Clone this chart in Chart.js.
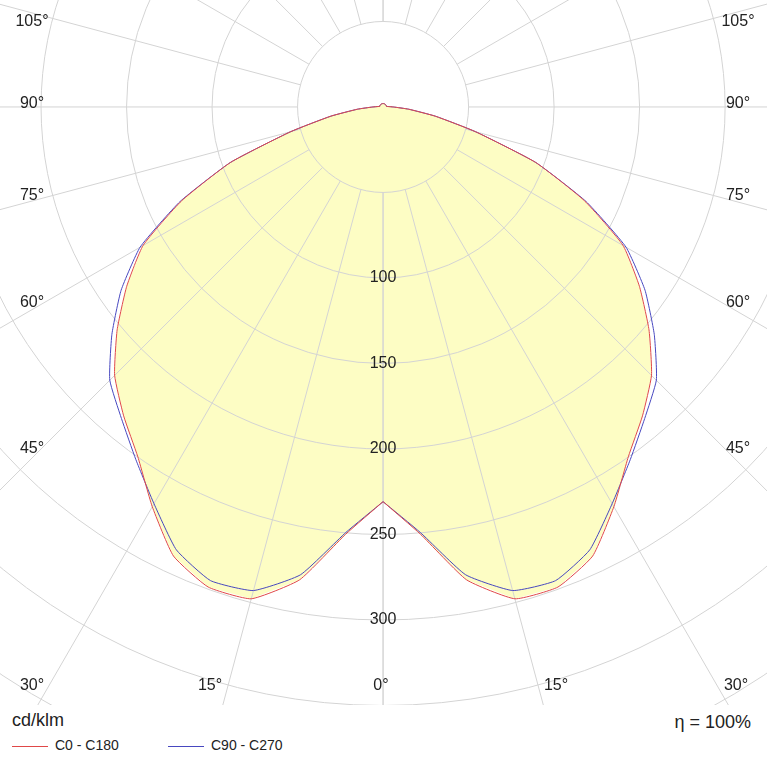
<!DOCTYPE html>
<html>
<head>
<meta charset="utf-8">
<script src="https://cdn.jsdelivr.net/npm/chart.js@4"></script>
<style>
  body { margin: 0; background: #fff; font-family: Arial, "Liberation Sans", sans-serif; }
  #wrap { position: relative; width: 767px; height: 767px; }
  canvas { display: block; }
  .t { position: absolute; font-size: 18px; color: #222; }
  .lg { position: absolute; font-size: 14px; color: #222; top: 737px; }
  .ln { position: absolute; top: 746px; height: 1px; width: 36px; }
</style>
</head>
<body>
<div id="wrap">
  <canvas id="c" width="767" height="705"></canvas>
  <div class="t" style="left:12px;top:710px">cd/klm</div>
  <div class="t" style="right:16px;top:712px">η = 100%</div>
  <div class="ln" style="left:12px;background:#e04848"></div>
  <div class="lg" style="left:55px">C0 - C180</div>
  <div class="ln" style="left:168px;background:#4848c0"></div>
  <div class="lg" style="left:211px">C90 - C270</div>
</div>
<script>
// gamma angles (0 = straight down)
const angles = [0,5,10,15,20,25,30,35,40,45,50,55,60,65,70,75,80,85,90,95,100,110,120,135,150,165,180];
const c0 = [231,251,281,298,299,290,270,250,236,222,203,183,162,130,95,56,31,15,6,3,2,2,2,2,2,2,2];
const c90 = [231,250,278,293,295,286,268,252,238,226,207,187,164,131,95,56,31,15,6,3,2,2,2,2,2,2,2];
const ringValues = [50,100,150,200,250,300,350,400];
const ringLabels = ['100','150','200','250','300'];

// closed outline: right half then mirrored left half
function outline(vals) {
  const pts = [];
  angles.forEach((a, i) => {
    const r = a * Math.PI / 180;
    pts.push({ x: vals[i] * Math.sin(r), y: -vals[i] * Math.cos(r) });
  });
  for (let i = angles.length - 2; i >= 0; i--) {
    const r = angles[i] * Math.PI / 180;
    pts.push({ x: -vals[i] * Math.sin(r), y: -vals[i] * Math.cos(r) });
  }
  return pts;
}

const polarGrid = {
  id: 'polarGrid',
  beforeDatasetsDraw(chart) {
    const { ctx, scales: { x, y } } = chart;
    const cx = x.getPixelForValue(0), cy = y.getPixelForValue(0);
    const k = x.getPixelForValue(1) - cx;
    ctx.save();
    // fill under the C0 outline
    const meta = chart.getDatasetMeta(0);
    ctx.beginPath();
    meta.data.forEach((p, i) => i ? ctx.lineTo(p.x, p.y) : ctx.moveTo(p.x, p.y));
    ctx.closePath();
    ctx.fillStyle = '#fdfdc4';
    ctx.fill();
    ctx.strokeStyle = '#d4d4d4';
    ctx.lineWidth = 1;
    ringValues.forEach(v => {
      ctx.beginPath();
      ctx.arc(cx, cy, v * k, 0, Math.PI * 2);
      ctx.stroke();
    });
    for (let a = 0; a <= 180; a += 15) {
      const r = a * Math.PI / 180;
      [1, -1].forEach(s => {
        const dx = s * Math.sin(r), dy = Math.cos(r);
        ctx.beginPath();
        ctx.moveTo(cx + dx * 50 * k, cy + dy * 50 * k);
        ctx.lineTo(cx + dx * 1000, cy + dy * 1000);
        ctx.stroke();
      });
    }
    ctx.restore();
  },
  afterDatasetsDraw(chart) {
    const { ctx, scales: { x, y } } = chart;
    const cx = x.getPixelForValue(0);
    ctx.save();
    ctx.font = '16px Arial, "Liberation Sans", sans-serif';
    ctx.fillStyle = '#222';
    ctx.textAlign = 'center';
    ctx.textBaseline = 'middle';
    ringLabels.forEach(l => {
      ctx.fillText(l, cx, y.getPixelForValue(-Number(l)));
    });
    const side = [['105°', 22], ['90°', 104], ['75°', 196], ['60°', 303], ['45°', 449]];
    side.forEach(([t, py]) => {
      ctx.fillText(t, 32, py);
      ctx.fillText(t, 738, py);
    });
    [['30°', 32], ['15°', 210], ['0°', 381], ['15°', 556], ['30°', 736]].forEach(([t, px]) => ctx.fillText(t, px, 686));
    ctx.restore();
  }
};

new Chart(document.getElementById('c'), {
  type: 'scatter',
  data: {
    datasets: [
      { label: 'C0 - C180', data: outline(c0), showLine: true, borderColor: '#e04848', borderWidth: 1, pointRadius: 0, tension: 0.15 },
      { label: 'C90 - C270', data: outline(c90), showLine: true, borderColor: '#4848c0', borderWidth: 1, pointRadius: 0, tension: 0.15 },
    ],
  },
  options: {
    responsive: false,
    animation: false,
    devicePixelRatio: 1,
    layout: { padding: 0 },
    scales: {
      x: { display: false, min: -224, max: 224.5 },
      y: { display: false, min: -350, max: 62.6 },
    },
    plugins: { legend: { display: false }, tooltip: { enabled: false } },
  },
  plugins: [polarGrid],
});
</script>
</body>
</html>
